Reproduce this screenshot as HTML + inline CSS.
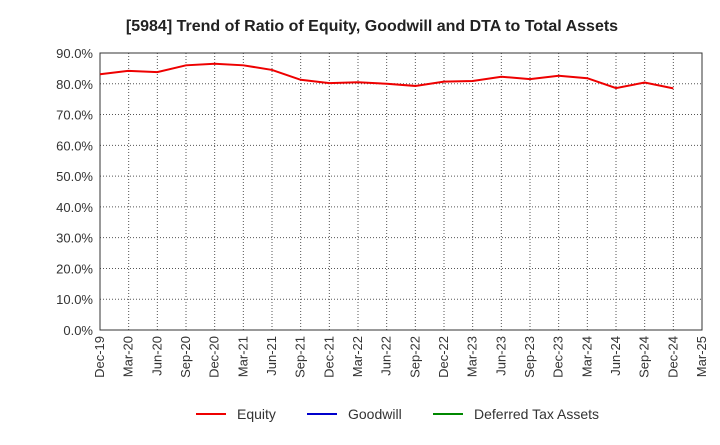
<!DOCTYPE html>
<html><head><meta charset="utf-8"><style>
body{margin:0;background:#fff;font-family:"Liberation Sans",sans-serif;}
</style></head><body>
<svg width="720" height="440" font-family="Liberation Sans, sans-serif">
<text x="372" y="31" text-anchor="middle" font-size="16" font-weight="bold" fill="#222">[5984]  Trend of Ratio of Equity, Goodwill and DTA to Total Assets</text>
<g id="grid"></g>
<g id="axes"></g>
<g id="series"></g>
<g font-size="14" fill="#333">
<g><line x1="196" y1="414" x2="226" y2="414" stroke="#e00" stroke-width="2"/><text x="237" y="419">Equity</text></g>
<g><line x1="307" y1="414" x2="337" y2="414" stroke="#00c" stroke-width="2"/><text x="348" y="419">Goodwill</text></g>
<g><line x1="433" y1="414" x2="463" y2="414" stroke="#080" stroke-width="2"/><text x="474" y="419">Deferred Tax Assets</text></g>
</g>
</svg>
<script>
const categories=["Dec-19","Mar-20","Jun-20","Sep-20","Dec-20","Mar-21","Jun-21","Sep-21","Dec-21","Mar-22","Jun-22","Sep-22","Dec-22","Mar-23","Jun-23","Sep-23","Dec-23","Mar-24","Jun-24","Sep-24","Dec-24","Mar-25"];
const equity=[83.1,84.2,83.8,86.0,86.5,86.0,84.5,81.3,80.2,80.5,80.0,79.3,80.7,80.9,82.3,81.5,82.6,81.8,78.6,80.4,78.5];
const yTicks=[0,10,20,30,40,50,60,70,80,90];
const L=100,R=702,T=53,B=330;
const ns="http://www.w3.org/2000/svg";
const xs=i=>L+i*(R-L)/(categories.length-1);
const ys=v=>B-(v/90)*(B-T);
function mk(p,t,a){const e=document.createElementNS(ns,t);for(const k in a)e.setAttribute(k,a[k]);document.getElementById(p).appendChild(e);return e;}
yTicks.forEach(v=>{
 const g=mk('grid','line',{x1:L,x2:R,y1:ys(v),y2:ys(v),stroke:'#555','stroke-dasharray':'1,2','stroke-width':1});
 
 
 const t=mk('axes','text',{x:L-7,y:ys(v)+5,'text-anchor':'end','font-size':13,fill:'#333'});
 t.textContent=v.toFixed(1)+'%';
 
 
});
categories.forEach((c,i)=>{
 const g=mk('grid','line',{x1:xs(i),x2:xs(i),y1:T,y2:B,stroke:'#555','stroke-dasharray':'1,2','stroke-width':1});
 
 
 const x=xs(i),y=B+6;
 const t=mk('axes','text',{x:x+4,y:y,'text-anchor':'end','font-size':13,fill:'#333',transform:`rotate(-90 ${x+4} ${y})`});
 t.textContent=c;
 
 
});
const fr=mk('axes','rect',{x:L,y:T,width:R-L,height:B-T,fill:'none',stroke:'#333','stroke-width':1});


const pl=mk('series','polyline',{points:equity.map((v,i)=>xs(i)+','+ys(v)).join(' '),fill:'none',stroke:'#e00','stroke-width':2});


</script>
</body></html>
